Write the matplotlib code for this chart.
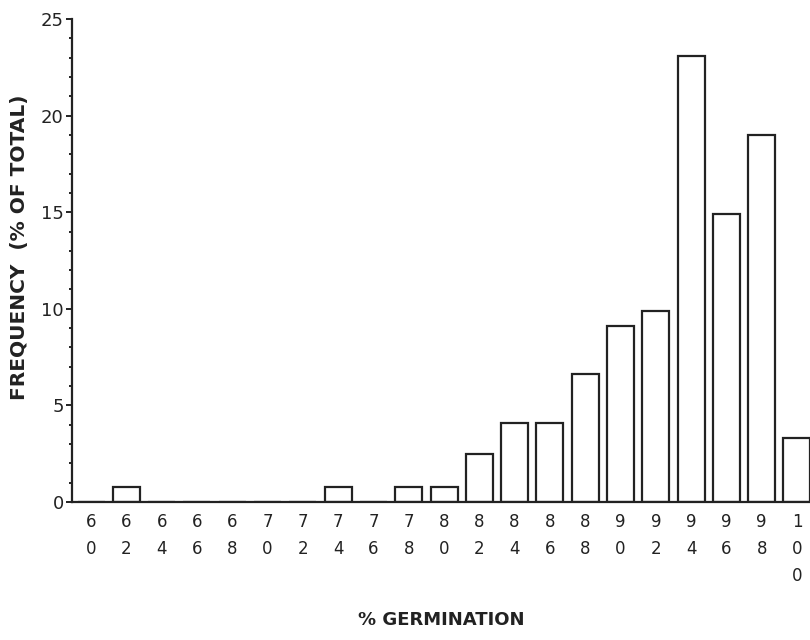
import matplotlib.pyplot as plt
import numpy as np

# germination classes (%) and frequency (% of total)
germination = [60, 62, 64, 66, 68, 70, 72, 74, 76, 78, 80,
               82, 84, 86, 88, 90, 92, 94, 96, 98, 100]
frequency = [0, 0.8, 0, 0, 0, 0, 0, 0.8, 0, 0.8, 0.8,
             2.5, 4.1, 4.1, 6.6, 9.1, 9.9, 23.1, 14.9, 19.0, 3.3]

# stacked digit labels, one character per line
tick_labels = ['\n'.join(str(g)) for g in germination]

fig = plt.figure(figsize=(8.1, 6.4), dpi=100)
ax = fig.add_axes([72 / 810, 138 / 640, 1 - 72 / 810, 483 / 640])

ax.bar(germination, frequency, width=1.53, facecolor='white',
       edgecolor='#222222', linewidth=1.6, zorder=2)

ax.set_xlim(58.92, 100.74)
ax.set_ylim(0, 25)

for side in ['top', 'right']:
    ax.spines[side].set_visible(False)
for side in ['left', 'bottom']:
    ax.spines[side].set_linewidth(1.6)
    ax.spines[side].set_color('#222222')

ax.set_yticks(np.arange(0, 26, 5))
ax.set_yticks(np.arange(0, 26, 1), minor=True)
ax.tick_params(axis='y', which='major', length=4, width=1.4, pad=2,
               labelsize=13, colors='#222222')
ax.tick_params(axis='y', which='minor', length=2.5, width=1.4, colors='#222222')

ax.set_xticks(germination)
ax.set_xticklabels(tick_labels, fontsize=12, linespacing=1.65, va='top')
ax.tick_params(axis='x', length=0, pad=8, colors='#222222')

ax.set_ylabel('FREQUENCY  (% OF TOTAL)', fontsize=14.5, fontweight='bold',
              color='#222222', va='center')
ax.yaxis.set_label_coords(-52 / 738, 0.528)
ax.set_xlabel('% GERMINATION', fontsize=13, fontweight='bold',
              color='#222222', va='center')
ax.xaxis.set_label_coords(0.5, -118 / 483)

fig.savefig('out.png', dpi=100)
